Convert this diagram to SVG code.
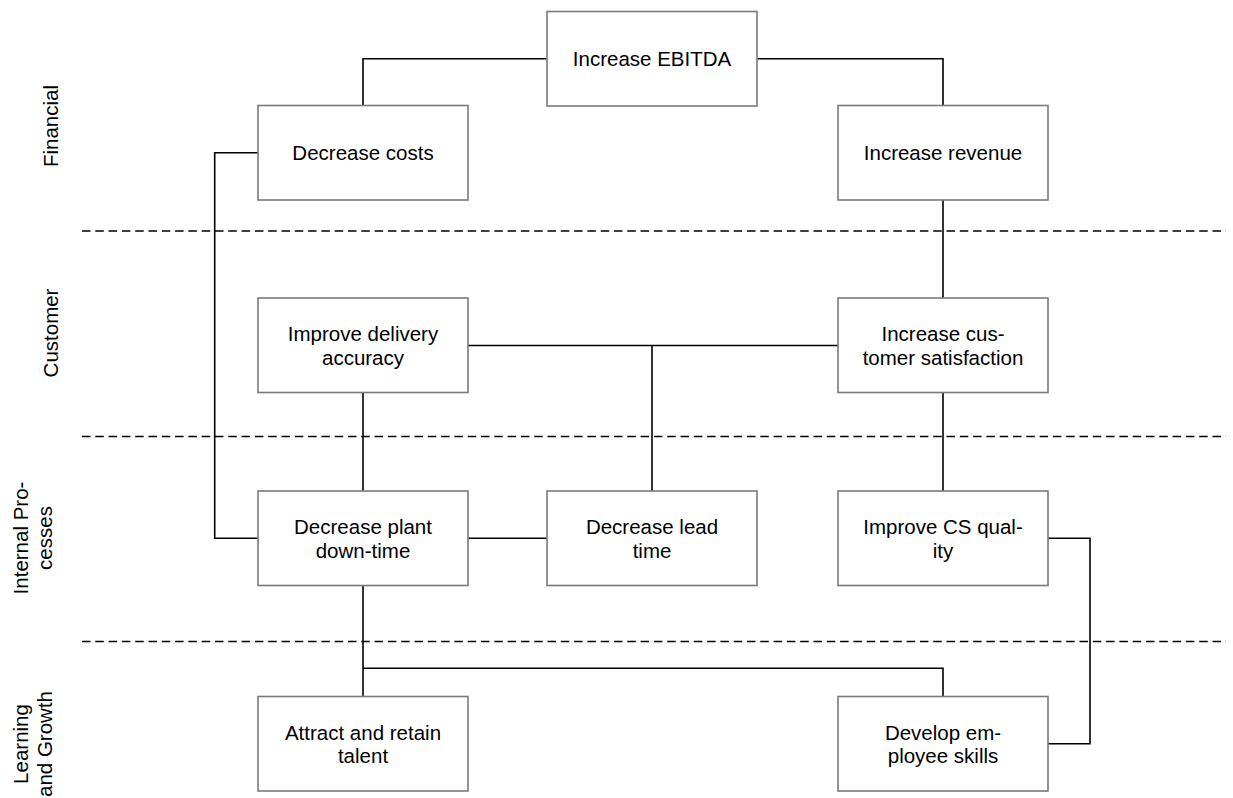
<svg xmlns="http://www.w3.org/2000/svg" width="1233" height="798" viewBox="0 0 1233 798">
  <style>
    .box { fill: #ffffff; stroke: #7a7a7a; stroke-width: 1.6; }
    .lbl { font-family: "Liberation Sans", Arial, sans-serif; font-size: 20.5px; fill: #000000; text-anchor: middle; }
    .wire { fill: none; stroke: #000000; stroke-width: 1.6; }
    .lane { stroke: #000000; stroke-width: 1.6; stroke-dasharray: 8.5 4.8; }
  </style>

  <rect width="1233" height="798" fill="#ffffff"/>

  <!-- lane separators -->
  <g id="lanes">
    <line class="lane" x1="82" y1="231" x2="1226" y2="231"/>
    <line class="lane" x1="82" y1="436.5" x2="1226" y2="436.5"/>
    <line class="lane" x1="82" y1="641.5" x2="1226" y2="641.5"/>
  </g>

  <!-- perspective titles -->
  <g id="lane-titles" class="lbl">
    <text transform="translate(58,126) rotate(-90)">Financial</text>
    <text transform="translate(58,333) rotate(-90)">Customer</text>
    <text transform="translate(0,538) rotate(-90)"><tspan x="0" y="28">Internal Pro-</tspan><tspan x="0" y="52">cesses</tspan></text>
    <text transform="translate(0,744) rotate(-90)"><tspan x="0" y="28">Learning</tspan><tspan x="0" y="52">and Growth</tspan></text>
  </g>

  <!-- connectors -->
  <g id="connectors">
    <polyline class="wire" points="547,58.7 363,58.7 363,105.5"/>
    <polyline class="wire" points="757,58.7 943,58.7 943,105.5"/>
    <polyline class="wire" points="258,152.7 214.7,152.7 214.7,538.3 258,538.3"/>
    <line class="wire" x1="943" y1="200" x2="943" y2="298"/>
    <line class="wire" x1="468" y1="345.5" x2="838" y2="345.5"/>
    <line class="wire" x1="652" y1="345.5" x2="652" y2="491"/>
    <line class="wire" x1="363" y1="392.5" x2="363" y2="491"/>
    <line class="wire" x1="943" y1="392.5" x2="943" y2="491"/>
    <line class="wire" x1="468" y1="538.3" x2="547" y2="538.3"/>
    <line class="wire" x1="363" y1="585.5" x2="363" y2="696.5"/>
    <polyline class="wire" points="363,668.3 943,668.3 943,696.5"/>
    <polyline class="wire" points="1048,538.3 1090,538.3 1090,743.7 1048,743.7"/>
  </g>

  <g id="increase-ebitda">
    <rect class="box" x="547" y="11.5" width="210" height="94.5"/>
    <text class="lbl" x="652" y="66">Increase EBITDA</text>
  </g>
  <g id="decrease-costs">
    <rect class="box" x="258" y="105.5" width="210" height="94.5"/>
    <text class="lbl" x="363" y="160">Decrease costs</text>
  </g>
  <g id="increase-revenue">
    <rect class="box" x="838" y="105.5" width="210" height="94.5"/>
    <text class="lbl" x="943" y="160">Increase revenue</text>
  </g>
  <g id="improve-delivery-accuracy">
    <rect class="box" x="258" y="298" width="210" height="94.5"/>
    <text class="lbl" x="363" y="341">Improve delivery</text>
    <text class="lbl" x="363" y="364.5">accuracy</text>
  </g>
  <g id="increase-customer-satisfaction">
    <rect class="box" x="838" y="298" width="210" height="94.5"/>
    <text class="lbl" x="943" y="341">Increase cus-</text>
    <text class="lbl" x="943" y="364.5">tomer satisfaction</text>
  </g>
  <g id="decrease-plant-downtime">
    <rect class="box" x="258" y="491" width="210" height="94.5"/>
    <text class="lbl" x="363" y="534">Decrease plant</text>
    <text class="lbl" x="363" y="557.5">down-time</text>
  </g>
  <g id="decrease-lead-time">
    <rect class="box" x="547" y="491" width="210" height="94.5"/>
    <text class="lbl" x="652" y="534">Decrease lead</text>
    <text class="lbl" x="652" y="557.5">time</text>
  </g>
  <g id="improve-cs-quality">
    <rect class="box" x="838" y="491" width="210" height="94.5"/>
    <text class="lbl" x="943" y="534">Improve CS qual-</text>
    <text class="lbl" x="943" y="557.5">ity</text>
  </g>
  <g id="attract-retain-talent">
    <rect class="box" x="258" y="696.5" width="210" height="94.5"/>
    <text class="lbl" x="363" y="739.5">Attract and retain</text>
    <text class="lbl" x="363" y="763">talent</text>
  </g>
  <g id="develop-employee-skills">
    <rect class="box" x="838" y="696.5" width="210" height="94.5"/>
    <text class="lbl" x="943" y="739.5">Develop em-</text>
    <text class="lbl" x="943" y="763">ployee skills</text>
  </g>
</svg>
